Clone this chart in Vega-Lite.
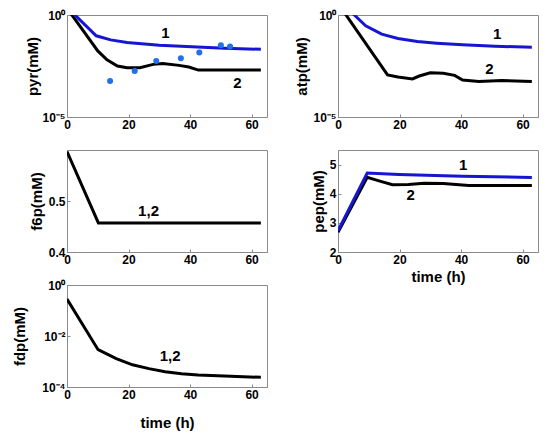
{
  "$schema": "https://vega.github.io/schema/vega-lite/v6.json",
  "background": "white",
  "padding": {"left": 12, "top": 8, "right": 5, "bottom": 5},
  "datasets": {
    "pyr": [
      {"t": 0, "v": 2.16, "s": "2"}, {"t": 10, "v": 0.0174, "s": "2"}, {"t": 13, "v": 0.0063, "s": "2"},
      {"t": 16.4, "v": 0.00316, "s": "2"}, {"t": 19.5, "v": 0.00263, "s": "2"}, {"t": 23.7, "v": 0.00263, "s": "2"},
      {"t": 28, "v": 0.0038, "s": "2"}, {"t": 31.1, "v": 0.00417, "s": "2"}, {"t": 36.4, "v": 0.00339, "s": "2"},
      {"t": 39.6, "v": 0.00282, "s": "2"}, {"t": 42.7, "v": 0.002, "s": "2"}, {"t": 51.2, "v": 0.002, "s": "2"},
      {"t": 63, "v": 0.002, "s": "2"},
      {"t": 0, "v": 2.4, "s": "1"}, {"t": 9.5, "v": 0.0955, "s": "1"}, {"t": 14.2, "v": 0.0603, "s": "1"},
      {"t": 19.5, "v": 0.0447, "s": "1"}, {"t": 30, "v": 0.0331, "s": "1"}, {"t": 40.6, "v": 0.0275, "s": "1"},
      {"t": 51.2, "v": 0.0234, "s": "1"}, {"t": 63, "v": 0.0209, "s": "1"}
    ],
    "pyr_obs": [
      {"t": 14, "v": 0.000575}, {"t": 22, "v": 0.00178}, {"t": 29, "v": 0.00562}, {"t": 37, "v": 0.00759},
      {"t": 43, "v": 0.0145}, {"t": 50, "v": 0.0331}, {"t": 53, "v": 0.0282}
    ],
    "atp": [
      {"t": 0, "v": 3.7, "s": "2"}, {"t": 16.1, "v": 0.00115, "s": "2"}, {"t": 19.5, "v": 0.00091, "s": "2"},
      {"t": 24.2, "v": 0.00074, "s": "2"}, {"t": 26.4, "v": 0.00102, "s": "2"}, {"t": 30, "v": 0.00148, "s": "2"},
      {"t": 34.2, "v": 0.00138, "s": "2"}, {"t": 37.9, "v": 0.0011, "s": "2"}, {"t": 40.5, "v": 0.00065, "s": "2"},
      {"t": 45.8, "v": 0.00055, "s": "2"}, {"t": 53.2, "v": 0.00062, "s": "2"}, {"t": 63, "v": 0.00055, "s": "2"},
      {"t": 0, "v": 6.0, "s": "1"}, {"t": 5.3, "v": 1.0, "s": "1"}, {"t": 9, "v": 0.295, "s": "1"},
      {"t": 14.2, "v": 0.115, "s": "1"}, {"t": 19.5, "v": 0.0708, "s": "1"}, {"t": 25.8, "v": 0.0501, "s": "1"},
      {"t": 32.1, "v": 0.0417, "s": "1"}, {"t": 40.5, "v": 0.0347, "s": "1"}, {"t": 51, "v": 0.0295, "s": "1"},
      {"t": 63, "v": 0.0263, "s": "1"}
    ],
    "f6p": [
      {"t": 0, "v": 0.597, "s": "2"}, {"t": 10.2, "v": 0.457, "s": "2"}, {"t": 63, "v": 0.457, "s": "2"}
    ],
    "pep": [
      {"t": 0, "v": 2.68, "s": "2"}, {"t": 9.5, "v": 4.56, "s": "2"}, {"t": 13.6, "v": 4.43, "s": "2"},
      {"t": 17.7, "v": 4.31, "s": "2"}, {"t": 22.9, "v": 4.32, "s": "2"}, {"t": 28, "v": 4.36, "s": "2"},
      {"t": 34.2, "v": 4.35, "s": "2"}, {"t": 39.4, "v": 4.31, "s": "2"}, {"t": 42.5, "v": 4.28, "s": "2"},
      {"t": 63, "v": 4.28, "s": "2"},
      {"t": 0, "v": 2.73, "s": "1"}, {"t": 9.5, "v": 4.71, "s": "1"}, {"t": 19.8, "v": 4.66, "s": "1"},
      {"t": 40.4, "v": 4.6, "s": "1"}, {"t": 63, "v": 4.56, "s": "1"}
    ],
    "fdp": [
      {"t": 0, "v": 0.28, "s": "2"}, {"t": 10.1, "v": 0.0029, "s": "2"}, {"t": 16, "v": 0.00129, "s": "2"},
      {"t": 21.3, "v": 0.00074, "s": "2"}, {"t": 26.6, "v": 0.000525, "s": "2"}, {"t": 31.9, "v": 0.000398, "s": "2"},
      {"t": 37.2, "v": 0.000331, "s": "2"}, {"t": 42.6, "v": 0.000295, "s": "2"}, {"t": 53.2, "v": 0.000263, "s": "2"},
      {"t": 63, "v": 0.00024, "s": "2"}
    ],
    "labels": [
      {"panel": "pyr", "t": 32, "v": 0.138, "label": "1"},
      {"panel": "pyr", "t": 55.4, "v": 0.00048, "label": "2"},
      {"panel": "atp", "t": 51.7, "v": 0.115, "label": "1"},
      {"panel": "atp", "t": 49.2, "v": 0.0023, "label": "2"},
      {"panel": "f6p", "t": 26.5, "v": 0.481, "label": "1,2"},
      {"panel": "pep", "t": 40.7, "v": 4.99, "label": "1"},
      {"panel": "pep", "t": 23.6, "v": 3.95, "label": "2"},
      {"panel": "fdp", "t": 33.5, "v": 0.00158, "label": "1,2"}
    ]
  },
  "columns": 2,
  "bounds": "flush",
  "spacing": {"row": 33, "column": 71},
  "concat": [
    {
      "width": 200, "height": 102,
      "layer": [
        {
          "data": {"name": "pyr"},
          "mark": {"type": "line", "strokeWidth": 3, "clip": true},
          "encoding": {
            "x": {"field": "t", "type": "quantitative", "scale": {"domain": [0, 63]}, "axis": {"values": [0, 20, 40, 60], "title": null}},
            "y": {"field": "v", "type": "quantitative", "scale": {"type": "log", "domain": [0.00001, 1]},
                  "axis": {"values": [0.00001, 1], "title": "pyr(mM)", "titlePadding": 2, "labelExpr": "datum.value >= 1 ? '10⁰' : '10⁻⁵'"}},
            "color": {"field": "s", "type": "nominal", "scale": {"domain": ["1", "2"], "range": ["#1616d2", "#000000"]}, "legend": null}
          }
        },
        {
          "data": {"name": "pyr_obs"},
          "mark": {"type": "circle", "size": 36, "color": "#1f6fee", "opacity": 1},
          "encoding": {"x": {"field": "t", "type": "quantitative"}, "y": {"field": "v", "type": "quantitative"}}
        },
        {
          "data": {"name": "labels"},
          "transform": [{"filter": "datum.panel == 'pyr'"}],
          "mark": {"type": "text", "fontSize": 15, "fontWeight": "bold", "color": "black"},
          "encoding": {"x": {"field": "t", "type": "quantitative"}, "y": {"field": "v", "type": "quantitative"}, "text": {"field": "label"}}
        }
      ]
    },
    {
      "width": 200, "height": 102,
      "layer": [
        {
          "data": {"name": "atp"},
          "mark": {"type": "line", "strokeWidth": 3, "clip": true},
          "encoding": {
            "x": {"field": "t", "type": "quantitative", "scale": {"domain": [0, 63]}, "axis": {"values": [0, 20, 40, 60], "title": null}},
            "y": {"field": "v", "type": "quantitative", "scale": {"type": "log", "domain": [0.00001, 1]},
                  "axis": {"values": [0.00001, 1], "title": "atp(mM)", "titlePadding": 4, "labelExpr": "datum.value >= 1 ? '10⁰' : '10⁻⁵'"}},
            "color": {"field": "s", "type": "nominal", "scale": {"domain": ["1", "2"], "range": ["#1616d2", "#000000"]}, "legend": null}
          }
        },
        {
          "data": {"name": "labels"},
          "transform": [{"filter": "datum.panel == 'atp'"}],
          "mark": {"type": "text", "fontSize": 15, "fontWeight": "bold", "color": "black"},
          "encoding": {"x": {"field": "t", "type": "quantitative"}, "y": {"field": "v", "type": "quantitative"}, "text": {"field": "label"}}
        }
      ]
    },
    {
      "width": 200, "height": 102,
      "layer": [
        {
          "data": {"name": "f6p"},
          "mark": {"type": "line", "strokeWidth": 3, "clip": true, "color": "black"},
          "encoding": {
            "x": {"field": "t", "type": "quantitative", "scale": {"domain": [0, 63]}, "axis": {"values": [0, 20, 40, 60], "title": null}},
            "y": {"field": "v", "type": "quantitative", "scale": {"domain": [0.4, 0.6]},
                  "axis": {"values": [0.4, 0.5], "title": "f6p(mM)", "titlePadding": 4, "format": ".1f"}}
          }
        },
        {
          "data": {"name": "labels"},
          "transform": [{"filter": "datum.panel == 'f6p'"}],
          "mark": {"type": "text", "fontSize": 15, "fontWeight": "bold", "color": "black"},
          "encoding": {"x": {"field": "t", "type": "quantitative"}, "y": {"field": "v", "type": "quantitative"}, "text": {"field": "label"}}
        }
      ]
    },
    {
      "width": 200, "height": 102,
      "layer": [
        {
          "data": {"name": "pep"},
          "mark": {"type": "line", "strokeWidth": 3, "clip": true},
          "encoding": {
            "x": {"field": "t", "type": "quantitative", "scale": {"domain": [0, 63]}, "axis": {"values": [0, 20, 40, 60], "title": "time (h)"}},
            "y": {"field": "v", "type": "quantitative", "scale": {"domain": [2, 5.5], "nice": false, "zero": false},
                  "axis": {"tickCount": 4, "title": "pep(mM)", "titlePadding": 3, "format": "d", "labelOverlap": false, "labelBound": false}},
            "color": {"field": "s", "type": "nominal", "scale": {"domain": ["2", "1"], "range": ["#000000", "#1616d2"]}, "legend": null}
          }
        },
        {
          "data": {"name": "labels"},
          "transform": [{"filter": "datum.panel == 'pep'"}],
          "mark": {"type": "text", "fontSize": 15, "fontWeight": "bold", "color": "black"},
          "encoding": {"x": {"field": "t", "type": "quantitative"}, "y": {"field": "v", "type": "quantitative"}, "text": {"field": "label"}}
        }
      ]
    },
    {
      "width": 200, "height": 102,
      "layer": [
        {
          "data": {"name": "fdp"},
          "mark": {"type": "line", "strokeWidth": 3, "clip": true, "color": "black"},
          "encoding": {
            "x": {"field": "t", "type": "quantitative", "scale": {"domain": [0, 63]}, "axis": {"values": [0, 20, 40, 60], "title": "time (h)", "titlePadding": 15}},
            "y": {"field": "v", "type": "quantitative", "scale": {"type": "log", "domain": [0.0001, 1]},
                  "axis": {"values": [0.0001, 0.01, 1], "title": "fdp(mM)", "titlePadding": 14, "labelExpr": "datum.value >= 1 ? '10⁰' : datum.value >= 0.005 ? '10⁻²' : '10⁻⁴'"}}
          }
        },
        {
          "data": {"name": "labels"},
          "transform": [{"filter": "datum.panel == 'fdp'"}],
          "mark": {"type": "text", "fontSize": 15, "fontWeight": "bold", "color": "black"},
          "encoding": {"x": {"field": "t", "type": "quantitative"}, "y": {"field": "v", "type": "quantitative"}, "text": {"field": "label"}}
        }
      ]
    }
  ],
  "config": {
    "font": "Liberation Sans",
    "view": {"stroke": "#8a8a8a", "strokeWidth": 1},
    "axis": {
      "grid": false,
      "domainColor": "#8a8a8a",
      "tickColor": "#8a8a8a",
      "tickSize": -3,
      "labelFont": "Liberation Sans",
      "labelFontSize": 12,
      "labelFontWeight": "bold",
      "labelColor": "black",
      "labelFlush": false,
      "labelOverlap": false,
      "labelPadding": 5,
      "titleFont": "Liberation Sans",
      "titleFontSize": 15,
      "titleFontWeight": "bold",
      "titleColor": "black"
    },
    "axisX": {"titlePadding": 4},
    "axisY": {"titlePadding": 6}
  }
}
